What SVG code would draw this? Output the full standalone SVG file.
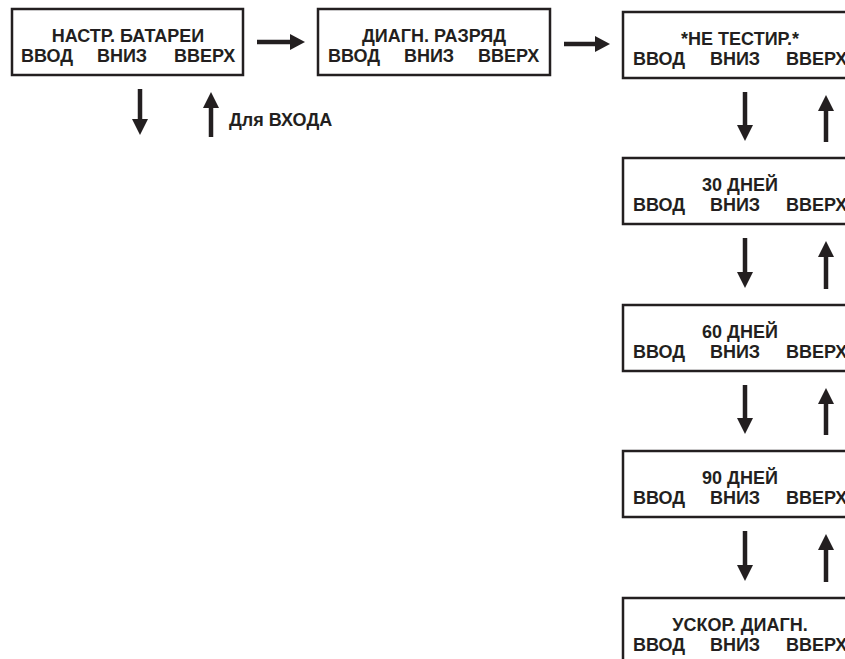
<svg xmlns="http://www.w3.org/2000/svg" width="845" height="659" viewBox="0 0 845 659">
<defs>
<style>
.box{fill:#fff;stroke:#231f20;stroke-width:2.5}
text{font-family:"Liberation Sans",Arial,sans-serif;font-weight:bold;font-size:18px;fill:#231f20}
.c{text-anchor:middle}
.ln{stroke:#231f20;stroke-width:4.5;fill:none}
.hd{fill:#231f20}
</style>
</defs>
<rect width="845" height="659" fill="#fff"/>
<g id="connectors">
<line class="ln" x1="257" y1="42" x2="292" y2="42"/><polygon class="hd" points="290,34 305,42 290,50"/>
<line class="ln" x1="564" y1="44" x2="597" y2="44"/><polygon class="hd" points="595,36 610,44 595,52"/>
<line class="ln" x1="140" y1="89" x2="140" y2="121"/><polygon class="hd" points="132,119 140,135 148,119"/>
<line class="ln" x1="211" y1="106" x2="211" y2="137"/><polygon class="hd" points="203,108 211,92 219,108"/>
<line class="ln" x1="745" y1="92" x2="745" y2="127"/><polygon class="hd" points="737,125 745,141 753,125"/>
<line class="ln" x1="826" y1="109" x2="826" y2="142"/><polygon class="hd" points="818,111 826,95 834,111"/>
<line class="ln" x1="745" y1="238" x2="745" y2="274"/><polygon class="hd" points="737,272 745,288 753,272"/>
<line class="ln" x1="826" y1="255" x2="826" y2="289"/><polygon class="hd" points="818,257 826,241 834,257"/>
<line class="ln" x1="745" y1="385" x2="745" y2="420"/><polygon class="hd" points="737,418 745,434 753,418"/>
<line class="ln" x1="826" y1="402" x2="826" y2="435"/><polygon class="hd" points="818,404 826,388 834,404"/>
<line class="ln" x1="745" y1="531" x2="745" y2="567"/><polygon class="hd" points="737,565 745,581 753,565"/>
<line class="ln" x1="826" y1="548" x2="826" y2="582"/><polygon class="hd" points="818,550 826,534 834,550"/>
<text x="229" y="126">Для ВХОДА</text>
</g>
<g id="n1">
<rect class="box" x="12" y="9" width="231" height="66"/>
<text class="c" x="128" y="42">НАСТР. БАТАРЕИ</text>
<text x="21" y="62">ВВОД</text><text class="c" x="122" y="62">ВНИЗ</text><text x="174" y="62">ВВЕРХ</text>
</g>
<g id="n2">
<rect class="box" x="318" y="9" width="232" height="66"/>
<text class="c" x="434" y="42">ДИАГН. РАЗРЯД</text>
<text x="328" y="62">ВВОД</text><text class="c" x="429" y="62">ВНИЗ</text><text x="478" y="62">ВВЕРХ</text>
</g>
<g id="n3">
<rect class="box" x="623" y="12" width="231" height="66"/>
<text class="c" x="740" y="45">*НЕ ТЕСТИР.*</text>
<text x="633" y="65">ВВОД</text><text class="c" x="735" y="65">ВНИЗ</text><text x="786" y="65">ВВЕРХ</text>
</g>
<g id="n4">
<rect class="box" x="623" y="158" width="231" height="66"/>
<text class="c" x="740" y="191">30 ДНЕЙ</text>
<text x="633" y="211">ВВОД</text><text class="c" x="735" y="211">ВНИЗ</text><text x="786" y="211">ВВЕРХ</text>
</g>
<g id="n5">
<rect class="box" x="623" y="305" width="231" height="66"/>
<text class="c" x="740" y="338">60 ДНЕЙ</text>
<text x="633" y="358">ВВОД</text><text class="c" x="735" y="358">ВНИЗ</text><text x="786" y="358">ВВЕРХ</text>
</g>
<g id="n6">
<rect class="box" x="623" y="451" width="231" height="66"/>
<text class="c" x="740" y="484">90 ДНЕЙ</text>
<text x="633" y="504">ВВОД</text><text class="c" x="735" y="504">ВНИЗ</text><text x="786" y="504">ВВЕРХ</text>
</g>
<g id="n7">
<rect class="box" x="623" y="598" width="231" height="66"/>
<text class="c" x="740" y="631">УСКОР. ДИАГН.</text>
<text x="633" y="651">ВВОД</text><text class="c" x="735" y="651">ВНИЗ</text><text x="786" y="651">ВВЕРХ</text>
</g>
</svg>
